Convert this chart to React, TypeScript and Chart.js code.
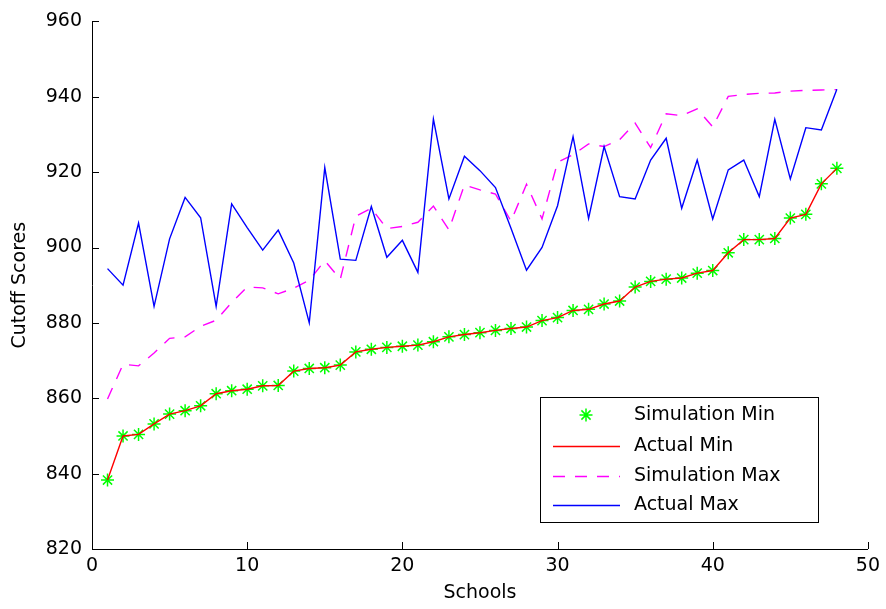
import React, { useEffect, useRef } from "react";
import { Chart, registerables } from "chart.js";

Chart.register(...registerables);

const schools = [
  1, 2, 3, 4, 5, 6, 7, 8, 9, 10, 11, 12, 13, 14, 15, 16, 17, 18, 19, 20, 21, 22, 23, 24,
  25, 26, 27, 28, 29, 30, 31, 32, 33, 34, 35, 36, 37, 38, 39, 40, 41, 42, 43, 44, 45, 46, 47, 48,
];

const actualMin = [
  838.3, 850.0, 850.4, 853.2, 855.8, 856.7, 858.0, 861.2, 862.0, 862.4, 863.3, 863.4,
  867.2, 867.9, 868.1, 868.8, 872.3, 873.0, 873.5, 873.8, 874.1, 875.0, 876.3, 876.9,
  877.4, 878.0, 878.5, 878.9, 880.6, 881.4, 883.3, 883.6, 885.0, 885.8, 889.5, 891.0,
  891.6, 891.9, 893.2, 893.9, 898.6, 902.1, 902.1, 902.4, 907.8, 908.8, 916.9, 921.0,
];

const simulationMin = [
  838.3, 850.0, 850.4, 853.2, 855.8, 856.7, 858.0, 861.2, 862.0, 862.4, 863.3, 863.4,
  867.2, 867.9, 868.1, 868.8, 872.3, 873.0, 873.5, 873.8, 874.1, 875.0, 876.3, 876.9,
  877.4, 878.0, 878.5, 878.9, 880.6, 881.4, 883.3, 883.6, 885.0, 885.8, 889.5, 891.0,
  891.6, 891.9, 893.2, 893.9, 898.6, 902.1, 902.1, 902.4, 907.8, 908.8, 916.9, 921.0,
];

const actualMax = [
  894.4, 890.0, 906.5, 884.4, 902.3, 913.3, 907.9, 884.4, 911.6, 905.3, 899.3, 904.6,
  895.9, 880.0, 921.2, 896.9, 896.6, 910.9, 897.4, 901.9, 893.4, 934.1, 912.9, 924.2,
  920.4, 915.9, 905.1, 894.0, 900.0, 911.1, 929.4, 907.7, 926.8, 913.5, 912.9, 923.2,
  929.0, 910.4, 923.2, 907.6, 920.6, 923.2, 913.5, 934.0, 918.2, 931.8, 931.2, 942.0,
];

const simulationMax = [
  859.8, 869.0, 868.6, 872.0, 875.9, 876.3, 879.1, 880.7, 885.4, 889.5, 889.3, 887.7,
  889.2, 891.3, 896.5, 891.6, 908.3, 910.4, 905.0, 905.6, 906.7, 911.0, 904.7, 916.6,
  915.3, 914.2, 907.0, 916.8, 907.6, 922.6, 924.6, 927.5, 926.8, 928.6, 933.0, 926.5,
  935.5, 935.0, 936.8, 932.0, 940.1, 940.6, 940.9, 941.0, 941.5, 941.7, 941.8, 941.9,
];

const xLabel = "Schools";
const yLabel = "Cutoff Scores";
const seriesNames = ["Simulation Min", "Actual Min", "Simulation Max", "Actual Max"];

const FONT = "'DejaVu Sans', Arial, sans-serif";
const FONT_SIZE = 19;

function pts(ys: number[]) {
  return schools.map((x, i) => ({ x, y: ys[i] }));
}

const inwardTicks = {
  id: "inwardTicks",
  afterDraw(chart: any) {
    const { ctx, chartArea, scales } = chart;
    const xs = scales.x;
    const ys = scales.y;
    ctx.save();
    ctx.strokeStyle = "#000";
    ctx.lineWidth = 1;
    ctx.beginPath();
    xs.ticks.forEach((t: any) => {
      const px = Math.round(xs.getPixelForValue(t.value)) + 0.5;
      ctx.moveTo(px, chartArea.bottom);
      ctx.lineTo(px, chartArea.bottom - 7);
    });
    ys.ticks.forEach((t: any) => {
      const py = Math.round(ys.getPixelForValue(t.value)) + 0.5;
      ctx.moveTo(chartArea.left, py);
      ctx.lineTo(chartArea.left + 7, py);
    });
    ctx.stroke();
    ctx.restore();
  },
};

function drawStar(ctx: CanvasRenderingContext2D, x: number, y: number, r: number) {
  ctx.beginPath();
  ctx.moveTo(x - r, y);
  ctx.lineTo(x + r, y);
  ctx.moveTo(x, y - r);
  ctx.lineTo(x, y + r);
  const d = r * Math.SQRT1_2;
  ctx.moveTo(x - d, y - d);
  ctx.lineTo(x + d, y + d);
  ctx.moveTo(x - d, y + d);
  ctx.lineTo(x + d, y - d);
  ctx.stroke();
}

const boxLegend = {
  id: "boxLegend",
  afterDraw(chart: any) {
    const { ctx } = chart;
    const left = 540.5;
    const top = 397.5;
    const w = 278;
    const h = 125;
    ctx.save();
    ctx.fillStyle = "#fff";
    ctx.fillRect(left, top, w, h);
    ctx.strokeStyle = "#000";
    ctx.lineWidth = 1;
    ctx.strokeRect(left, top, w, h);
    const rows = [415, 446, 476, 505];
    const byLabel: any = {};
    chart.data.datasets.forEach((ds: any) => (byLabel[ds.label] = ds));
    seriesNames.forEach((name, i) => {
      const ds = byLabel[name];
      const y = rows[i];
      ctx.strokeStyle = ds.borderColor;
      ctx.lineWidth = ds.borderWidth || 1.4;
      if (ds.showLine === false) {
        ctx.strokeStyle = ds.pointBorderColor;
        ctx.lineWidth = ds.pointBorderWidth;
        drawStar(ctx, 586, y, ds.pointRadius);
      } else {
        ctx.setLineDash(ds.borderDash || []);
        ctx.beginPath();
        ctx.moveTo(553, y + 0.5);
        ctx.lineTo(620, y + 0.5);
        ctx.stroke();
        ctx.setLineDash([]);
      }
      ctx.fillStyle = "#000";
      ctx.font = `${FONT_SIZE}px ${FONT}`;
      ctx.textBaseline = "middle";
      ctx.textAlign = "left";
      ctx.fillText(name, 634, y);
    });
    ctx.restore();
  },
};

export default function App() {
  const ref = useRef<HTMLCanvasElement | null>(null);
  useEffect(() => {
    if (!ref.current) return;
    const chart = new Chart(ref.current, {
      type: "line",
      data: {
        datasets: [
          {
            label: "Actual Max",
            data: pts(actualMax),
            borderColor: "#0000ff",
            borderWidth: 1.4,
            pointRadius: 0,
            fill: false,
            tension: 0,
            order: 1,
          },
          {
            label: "Simulation Max",
            data: pts(simulationMax),
            borderColor: "#ff00ff",
            borderWidth: 1.4,
            borderDash: [12, 10],
            pointRadius: 0,
            fill: false,
            tension: 0,
            order: 2,
          },
          {
            label: "Actual Min",
            data: pts(actualMin),
            borderColor: "#ff0000",
            borderWidth: 1.4,
            pointRadius: 0,
            fill: false,
            tension: 0,
            order: 3,
          },
          {
            label: "Simulation Min",
            data: pts(simulationMin),
            showLine: false,
            borderColor: "#00ff00",
            backgroundColor: "#00ff00",
            pointStyle: "star",
            pointRadius: 6.5,
            pointBorderColor: "#00ff00",
            pointBorderWidth: 1.5,
            order: 4,
          },
        ],
      },
      options: {
        responsive: false,
        animation: false,
        events: [],
        layout: { padding: { top: 17, right: 16, left: 0, bottom: 0 } },
        plugins: {
          legend: { display: false },
          tooltip: { enabled: false },
        },
        scales: {
          x: {
            type: "linear",
            min: 0,
            max: 50,
            afterFit: (s: any) => {
              s.height = 60;
            },
            ticks: {
              stepSize: 10,
              color: "#000",
              padding: 6,
              font: { family: FONT, size: FONT_SIZE },
              maxRotation: 0,
            },
            grid: { display: false, drawTicks: false },
            border: { display: true, color: "#000", width: 1 },
            title: {
              display: true,
              text: xLabel,
              color: "#000",
              font: { family: FONT, size: FONT_SIZE },
              padding: { top: 0, bottom: 5 },
            },
          },
          y: {
            type: "linear",
            min: 820,
            max: 960,
            afterFit: (s: any) => {
              s.width = 92;
            },
            ticks: {
              stepSize: 20,
              color: "#000",
              padding: 10,
              font: { family: FONT, size: FONT_SIZE },
            },
            grid: { display: false, drawTicks: false },
            border: { display: true, color: "#000", width: 1 },
            title: {
              display: true,
              text: yLabel,
              color: "#000",
              font: { family: FONT, size: FONT_SIZE },
              padding: { top: 9, bottom: 0 },
            },
          },
        },
      },
      plugins: [inwardTicks, boxLegend],
    });
    return () => chart.destroy();
  }, []);
  return (
    <div style={{ position: "absolute", left: 0, top: 0, width: 886, height: 609, background: "#fff" }}>
      <canvas ref={ref} width={886} height={609} style={{ display: "block" }} />
    </div>
  );
}
